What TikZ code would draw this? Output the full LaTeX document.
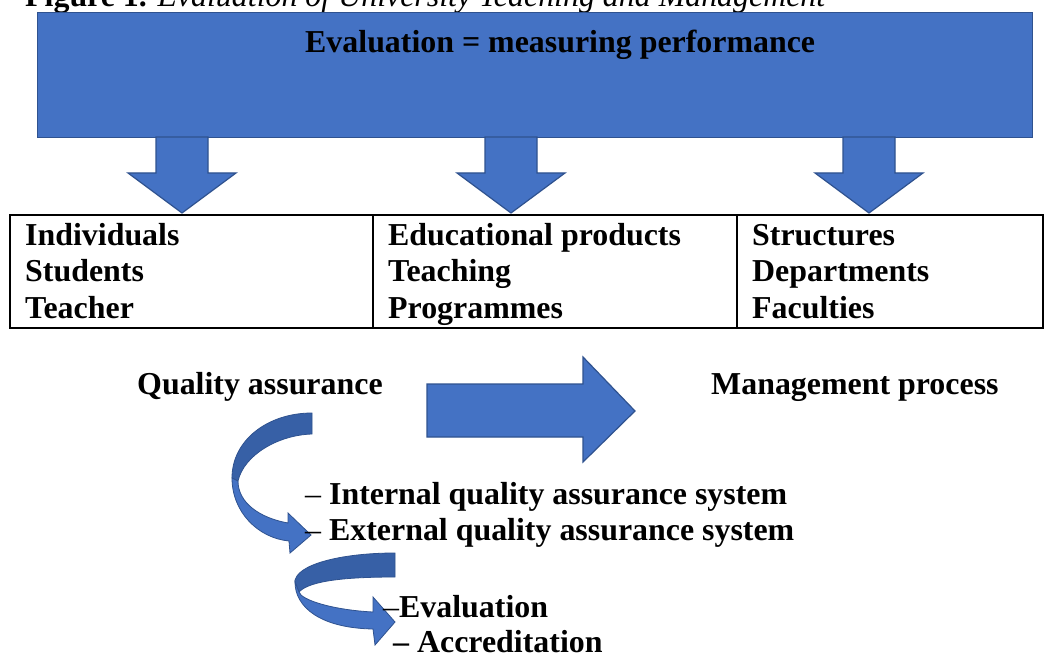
\documentclass[tikz,border=0pt]{standalone}
\usepackage{fontspec}
\setmainfont{Liberation Serif}
\definecolor{ofblue}{HTML}{4472C4}
\definecolor{ofedge}{HTML}{2F528F}
\definecolor{ofdark}{HTML}{3760A6}
\begin{document}
\begin{tikzpicture}[x=1pt,y=-1pt,
  txt/.style={anchor=base west, inner sep=0pt, font=\fontsize{31.9}{36}\selectfont\bfseries},
  blueshape/.style={fill=ofblue, draw=ofedge, line width=1.2pt, line join=miter},
  darkshape/.style={fill=ofdark, draw=ofedge, line width=0.8pt, line join=miter},
  downarrow/.pic={\path[blueshape] (-26,0) -- (26,0) -- (26,36) -- (54,36) -- (0,76) -- (-54,36) -- (-26,36) -- cycle;}]
\useasboundingbox (0,0) rectangle (1048,655);
\clip (0,0) rectangle (1048,655);
\fill[white] (0,0) rectangle (1048,655);
% caption (cut off at top)
\node[txt] (cap) at (25,7) {Figure 1. \textit{\mdseries Evaluation of University Teaching and Management}};
% main box
\node[blueshape, anchor=north west, minimum width=995pt, minimum height=125pt, inner sep=0pt] (eval) at (37,12) {};
\node[txt] (evaltxt) at (305,53) {Evaluation = measuring performance};
% down arrows
\pic at (182,137) {downarrow};
\pic at (511,137) {downarrow};
\pic at (869,137) {downarrow};
% table
\draw[line width=1.5pt] (10,215) rectangle (1043,328);
\draw[line width=1.5pt] (373,215) -- (373,328);
\draw[line width=1.5pt] (737,215) -- (737,328);
\node[txt] (c11) at (25,245) {Individuals};
\node[txt] (c12) at (25,281.5) {Students};
\node[txt] (c13) at (25,318) {Teacher};
\node[txt] (c21) at (388,245) {Educational products};
\node[txt] (c22) at (388,281.5) {Teaching};
\node[txt] (c23) at (388,318) {Programmes};
\node[txt] (c31) at (752,245) {Structures};
\node[txt] (c32) at (752,281.5) {Departments};
\node[txt] (c33) at (752,318) {Faculties};
% quality assurance -> management process
\node[txt] (qa) at (137,394) {Quality assurance};
\node[txt] (mp) at (711,394) {Management process};
\path[blueshape] (427,384) -- (583,384) -- (583,357) -- (635,411) -- (583,462) -- (583,437) -- (427,437) -- cycle;
% curved arrow 1
\path[darkshape] (312,413) .. controls (268,413) and (232,440) .. (232,478) -- (238,481) .. controls (244,455) and (278,435) .. (312,434) -- cycle;
\path[blueshape, line width=0.8pt] (232,478) .. controls (232,512) and (258,538) .. (289,541) -- (290,553) -- (311,535) -- (288,513) -- (288,523) .. controls (260,518) and (238,503) .. (238,481) -- cycle;
\node[txt] (iqa) at (305,504) {{\mdseries –} Internal quality assurance system};
\node[txt] (eqa) at (305,540) {{\mdseries –} External quality assurance system};
% curved arrow 2
\path[darkshape] (395,553) .. controls (340,553) and (295,565) .. (295,582) -- (299,592) .. controls (310,580) and (350,577) .. (395,577) -- cycle;
\path[blueshape, line width=0.8pt] (295,582) .. controls (295,607) and (320,628) .. (373,629) -- (375,645) -- (395,622) -- (373,597) -- (373,612) .. controls (333,610) and (301,600) .. (299,592) -- cycle;
\node[txt] (ev) at (383,617) {{\mdseries –}Evaluation};
\node[txt] (acc) at (393,652) {– Accreditation};
\end{tikzpicture}
\end{document}
